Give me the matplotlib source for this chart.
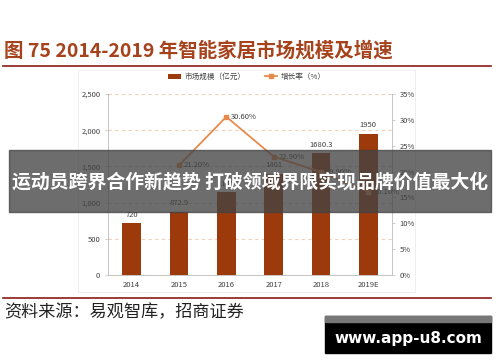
import matplotlib
matplotlib.use('Agg')
import matplotlib.pyplot as plt
from matplotlib.patches import Rectangle

plt.rcParams['font.family'] = ['Noto Sans CJK SC', 'DejaVu Sans']

years = ['2014', '2015', '2016', '2017', '2018', '2019E']
market_size = [720, 872.9, 1140, 1401, 1680.3, 1950]
growth_years = ['2015', '2016', '2017', '2018', '2019E']
growth_rate = [21.2, 30.6, 22.9, 19.9, 16.1]
size_labels = ['720', '872.9', '1140', '1401', '1680.3', '1950']

bar_color = '#9c3a0c'
line_color = '#e98a4c'
title_color = '#a6421c'
rule_color = '#8b1a1a'

fig = plt.figure(figsize=(5, 3.62), dpi=100)
W, H = 500, 362

def fx(px):
    return px / W

def fy(py):
    return 1 - py / H

# title and rules
fig.text(fx(4), fy(51), '图 75 2014-2019 年智能家居市场规模及增速', fontsize=14,
         fontweight='bold', color=title_color, va='center', ha='left')
fig.add_artist(plt.Line2D([fx(3), fx(491)], [fy(66), fy(66)], color=rule_color, lw=1.2))
fig.add_artist(plt.Line2D([fx(3), fx(491)], [fy(298), fy(298)], color=rule_color, lw=1.2))
fig.add_artist(Rectangle((fx(78), fy(292)), fx(415) - fx(78), fy(70) - fy(292),
                         transform=fig.transFigure, fill=False, ec='#ececec', lw=0.6))

ax = fig.add_axes([fx(108), fy(275), fx(392) - fx(108), fy(94) - fy(275)])
x = list(range(len(years)))
bars = ax.bar(x, market_size, width=0.4, color=bar_color, zorder=3, label='市场规模（亿元）')
for xi, v, lab in zip(x, market_size, size_labels):
    ax.text(xi, v + 60, lab, ha='center', va='bottom', fontsize=5.5, color='#404040', zorder=4)
ax.set_ylim(0, 2500)
ax.set_xlim(-0.5, len(years) - 0.5)
ax.set_yticks([0, 500, 1000, 1500, 2000, 2500])
ax.set_yticklabels(['0', '500', '1,000', '1,500', '2,000', '2,500'])
ax.set_xticks(x)
ax.set_xticklabels(years)
ax.yaxis.grid(True, linestyle=(0, (3, 3)), color='#f3cfb8', lw=0.8, zorder=0)
ax.tick_params(axis='both', labelsize=5.5, colors='#404040', length=2, width=0.5)
ax.tick_params(axis='y', color='#bbbbbb')
ax.tick_params(axis='x', length=0, pad=4)
for s in ['top', 'right']:
    ax.spines[s].set_visible(False)
for s in ['left', 'bottom']:
    ax.spines[s].set_color('#bbbbbb')
    ax.spines[s].set_linewidth(0.6)

ax2 = ax.twinx()
gx = [years.index(y) for y in growth_years]
ax2.plot(gx, growth_rate, color=line_color, lw=1.3, marker='s', markersize=3.5,
         zorder=5, label='增长率（%）')
for xi, v in zip(gx, growth_rate):
    ax2.text(xi + 0.1, v, '%.2f%%' % v, ha='left', va='center', fontsize=5.5, color='#404040')
ax2.set_ylim(0, 35)
ax2.set_yticks([0, 5, 10, 15, 20, 25, 30, 35])
ax2.set_yticklabels(['%d%%' % t for t in [0, 5, 10, 15, 20, 25, 30, 35]])
ax2.tick_params(axis='y', labelsize=5.5, colors='#404040', length=2, width=0.5)
ax2.tick_params(axis='y', color='#bbbbbb')
for s in ['top', 'left', 'bottom']:
    ax2.spines[s].set_visible(False)
ax2.spines['right'].set_color('#bbbbbb')
ax2.spines['right'].set_linewidth(0.6)

h1, l1 = ax.get_legend_handles_labels()
h2, l2 = ax2.get_legend_handles_labels()
fig.legend(h1 + h2, l1 + l2, loc='center', bbox_to_anchor=(fx(247), fy(77)), ncol=2,
           frameon=False, fontsize=5.5, handlelength=1.6, columnspacing=2.5,
           handletextpad=0.5, labelcolor='#404040')

# source line
fig.text(fx(4), fy(312), '资料来源：易观智库，招商证券', fontsize=12.3, color='#222222',
         va='center', ha='left')

# overlay banner
fig.add_artist(Rectangle((fx(9), fy(212)), fx(491) - fx(9), fy(150) - fy(212),
                         transform=fig.transFigure, color='#444444', alpha=0.78, zorder=10))
fig.text(fx(250), fy(182), '运动员跨界合作新趋势 打破领域界限实现品牌价值最大化',
         fontsize=13.6, fontweight='bold', color='white', ha='center', va='center', zorder=11)

# watermark
fig.add_artist(Rectangle((fx(325), fy(353)), fx(491) - fx(325), fy(316) - fy(353),
                         transform=fig.transFigure, color='black', zorder=10))
fig.add_artist(Rectangle((fx(325), fy(322)), fx(491) - fx(325), fy(316) - fy(322),
                         transform=fig.transFigure, color='#777777', zorder=11))
fig.text(fx(408), fy(338), 'www.app-u8.com', fontsize=11, fontweight='bold', color='white',
         ha='center', va='center', zorder=12, family=['DejaVu Sans'])

fig.savefig('out.png', dpi=100)
